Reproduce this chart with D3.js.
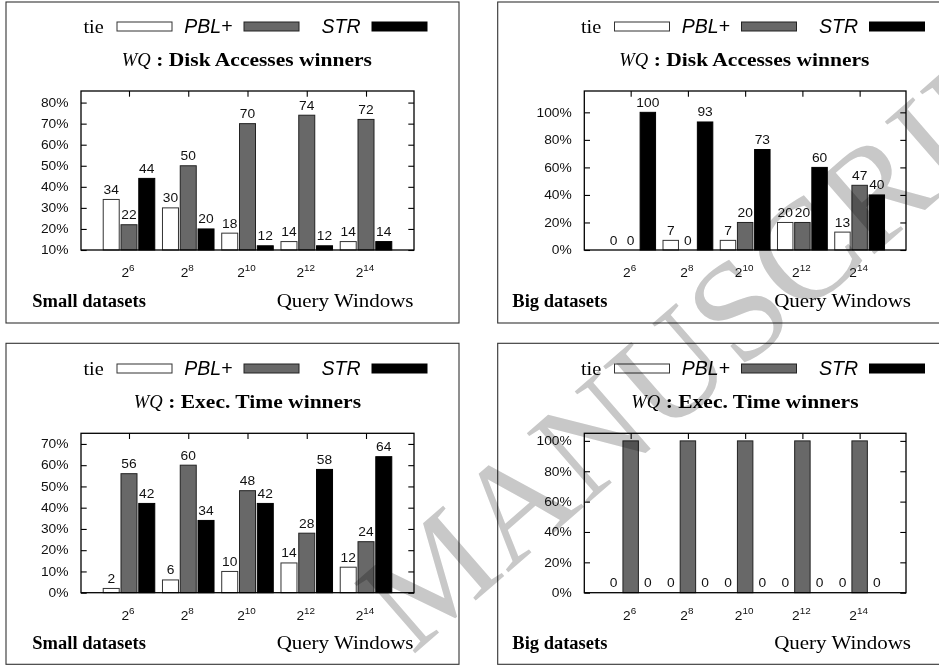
<!DOCTYPE html>
<html>
<head>
<meta charset="utf-8">
<script src="https://cdn.jsdelivr.net/npm/d3@7/dist/d3.min.js"></script>
<style>
  body { margin: 0; background: #fff; }
  svg { display: block; }
</style>
</head>
<body>
<svg id="chart" width="939" height="668"></svg>
<script>
// Query window sizes are powers of two; these are the exponents.
const windowExponents = ["6", "8", "10", "12", "14"];
const seriesNames = ["tie", "PBL+", "STR"];

// Disk accesses winners, small datasets (%)
const smallDiskTie = [34, 30, 18, 14, 14];
const smallDiskPbl = [22, 50, 70, 74, 72];
const smallDiskStr = [44, 20, 12, 12, 14];

// Disk accesses winners, big datasets (%)
const bigDiskTie = [0, 7, 7, 20, 13];
const bigDiskPbl = [0, 0, 20, 20, 47];
const bigDiskStr = [100, 93, 73, 60, 40];

// Execution time winners, small datasets (%)
const smallTimeTie = [2, 6, 10, 14, 12];
const smallTimePbl = [56, 60, 48, 28, 24];
const smallTimeStr = [42, 34, 42, 58, 64];

// Execution time winners, big datasets (%)
const bigTimeTie = [0, 0, 0, 0, 0];
const bigTimePbl = [100, 100, 100, 100, 100];
const bigTimeStr = [0, 0, 0, 0, 0];

// y tick values for each panel
const smallDiskTicks = [10, 20, 30, 40, 50, 60, 70, 80];
const bigDiskTicks = [0, 20, 40, 60, 80, 100];
const smallTimeTicks = [0, 10, 20, 30, 40, 50, 60, 70];
const bigTimeTicks = [0, 20, 40, 60, 80, 100];

const seriesFill = ["#ffffff", "#686868", "#000000"];
const seriesStroke = ["#333333", "#222222", "#000000"];

const SANS = "'Liberation Sans', Arial, Helvetica, sans-serif";
const SERIF = "'Liberation Serif', 'Times New Roman', Times, serif";

const svg = d3.select("#chart");

// text helper: horizontally stretched glyphs anchored at (x, y)
function label(g, x, y, str, o) {
  const t = g.append("text")
    .attr("transform", `translate(${x},${y}) scale(${o.sx || 1},1)`)
    .attr("font-family", o.family || SANS)
    .attr("font-size", o.size || 11)
    .attr("font-weight", o.weight || "normal")
    .attr("font-style", o.style || "normal")
    .attr("text-anchor", o.anchor || "start")
    .attr("fill", o.fill || "#000");
  if (str !== null) t.text(str);
  return t;
}

const panels = [
  { metric: "Disk Accesses winners", note: "Small datasets",
    values: [smallDiskTie, smallDiskPbl, smallDiskStr], ticks: smallDiskTicks, domain: [10, 85.5],
    dx: 0, dy: 0, box: [6, 2, 453, 321], plot: [81, 414, 91, 250] },
  { metric: "Disk Accesses winners", note: "Big datasets",
    values: [bigDiskTie, bigDiskPbl, bigDiskStr], ticks: bigDiskTicks, domain: [0, 115.5],
    dx: 497.5, dy: 0, box: [497.7, 2, 460, 321], plot: [584.3, 906, 91, 250], noteX: 512.3 },
  { metric: "Exec. Time winners", note: "Small datasets",
    values: [smallTimeTie, smallTimePbl, smallTimeStr], ticks: smallTimeTicks, domain: [0, 75],
    dx: 0, dy: 342, box: [6, 343.3, 453, 321], plot: [81, 414, 433.3, 592.7] },
  { metric: "Exec. Time winners", note: "Big datasets",
    values: [bigTimeTie, bigTimePbl, bigTimeStr], ticks: bigTimeTicks, domain: [0, 105],
    dx: 497.5, dy: 342, box: [497.7, 343.3, 460, 321], plot: [584.3, 906, 433.3, 592.7], noteX: 512.3 }
];

panels.forEach(p => {
  const g = svg.append("g");
  const [bx, by, bw, bh] = p.box;
  g.append("rect").attr("x", bx).attr("y", by).attr("width", bw).attr("height", bh)
    .attr("fill", "#fff").attr("stroke", "#333").attr("stroke-width", 1.1);

  // legend
  const legendText = [103.8, 232.5, 360.5];
  const legendBox = [117, 244, 372];
  seriesNames.forEach((name, i) => {
    if (i === 0) {
      label(g, legendText[i] + p.dx, 33 + p.dy, name, { family: SERIF, size: 18.5, sx: 1.1, anchor: "end" });
    } else {
      label(g, legendText[i] + p.dx, 33 + p.dy, name, { family: SANS, size: 19.5, style: "italic", anchor: "end" });
    }
    g.append("rect").attr("x", legendBox[i] + p.dx).attr("y", 22 + p.dy)
      .attr("width", 55).attr("height", 9)
      .attr("fill", seriesFill[i]).attr("stroke", seriesStroke[i]).attr("stroke-width", 1);
  });

  // title: italic WQ followed by the bold metric name
  const titleLeft = 121.7 + p.dx + (p.metric.startsWith("Exec") ? 12 : 0);
  label(g, titleLeft, 66 + p.dy, "WQ", { family: SERIF, size: 18.6, style: "italic" });
  label(g, titleLeft + 34.5, 66 + p.dy, ": " + p.metric, { family: SERIF, size: 18.6, weight: "bold", sx: 1.157 });

  // scales
  const [pl, pr, pt, pb] = p.plot;
  const x = d3.scaleLinear().domain([-0.81, 4.81]).range([pl, pr]);
  const y = d3.scaleLinear().domain(p.domain).range([pb, pt]);
  const barW = 0.27;
  const offsets = [-0.3, 0, 0.3];

  // frame ticks: inward on left/right, downward on top
  const yAxisL = d3.axisRight(y).tickValues(p.ticks).tickSize(5.7).tickFormat("");
  const yAxisR = d3.axisLeft(y).tickValues(p.ticks).tickSize(5.7).tickFormat("");
  const xAxisT = d3.axisBottom(x).tickValues(d3.range(windowExponents.length)).tickSize(5.7).tickFormat("");
  [[yAxisL, `translate(${pl},0)`], [yAxisR, `translate(${pr},0)`], [xAxisT, `translate(0,${pt})`]]
    .forEach(([ax, tr]) => {
      const a = g.append("g").attr("transform", tr).call(ax);
      a.select(".domain").remove();
      a.selectAll("line").attr("stroke", "#000").attr("stroke-width", 1.1);
    });

  // y tick labels
  p.ticks.forEach(v => {
    label(g, pl - 12.5, y(v) + 4.3, v + "%", { size: 12, sx: 1.15, anchor: "end", fill: "#111" });
  });

  // bars and value labels (labels that would rise past the frame are clipped away)
  p.values.forEach((vals, si) => {
    const rows = vals.map((v, ci) => ({ v, ci }));
    g.append("g").selectAll("rect").data(rows).join("rect")
      .attr("x", d => x(d.ci + offsets[si] - barW / 2))
      .attr("width", d => x(barW) - x(0))
      .attr("y", d => y(d.v))
      .attr("height", d => y(p.domain[0]) - y(d.v))
      .attr("fill", seriesFill[si])
      .attr("stroke", seriesStroke[si])
      .attr("stroke-width", 1);
    rows.forEach(d => {
      const ly = y(d.v) - 5.5;
      if (ly - 8 < pt) return;
      label(g, x(d.ci + offsets[si]), ly, String(d.v), { size: 12, sx: 1.15, anchor: "middle", fill: "#111" });
    });
  });

  // plot frame
  g.append("rect").attr("x", pl).attr("y", pt).attr("width", pr - pl).attr("height", pb - pt)
    .attr("fill", "none").attr("stroke", "#000").attr("stroke-width", 1.3);

  // x tick labels 2^n
  windowExponents.forEach((e, i) => {
    const t = label(g, x(i) - 1, pb + 27, null, { size: 12.5, sx: 1.1, anchor: "middle", fill: "#111" });
    t.append("tspan").text("2");
    t.append("tspan").attr("dy", -6).attr("font-size", 9).text(e);
  });

  // bottom captions
  label(g, (p.noteX || 32.3) , 307 + p.dy, p.note, { family: SERIF, size: 18.5, weight: "bold" });
  label(g, 413.5 + p.dx, 307 + p.dy, "Query Windows", { family: SERIF, size: 18.5, sx: 1.135, anchor: "end" });
});

// watermark across the page
const mark = svg.append("text")
  .attr("transform", "translate(412,656) rotate(-41)")
  .attr("font-family", SERIF)
  .attr("font-size", 142)
  .attr("fill", "#c8c8c8")
  .style("mix-blend-mode", "multiply");
mark.append("tspan").text("MANUSCRIPT");
</script>
</body>
</html>
